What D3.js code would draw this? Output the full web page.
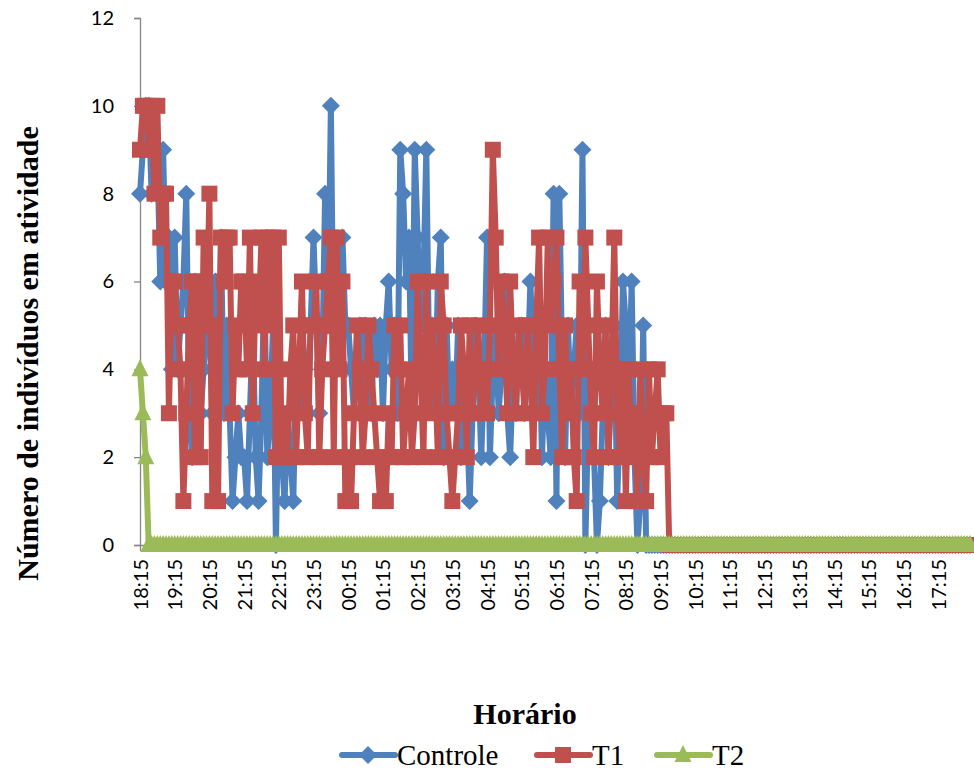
<!DOCTYPE html>
<html>
<head>
<meta charset="utf-8">
<script src="https://cdn.jsdelivr.net/npm/d3@7"></script>
<style>
  body { margin: 0; background: #fff; }
  svg { display: block; }
</style>
</head>
<body>
<svg id="chart" width="974" height="771"></svg>
<script>
// Hour labels shown on the category axis (one every 12 samples of 5 min)
const hourLabels = ["18:15","19:15","20:15","21:15","22:15","23:15","00:15","01:15",
  "02:15","03:15","04:15","05:15","06:15","07:15","08:15","09:15","10:15","11:15",
  "12:15","13:15","14:15","15:15","16:15","17:15"];

const yTicks = [0, 2, 4, 6, 8, 10, 12];

// Number of active individuals, sampled every 5 minutes from 18:15 (12 per row = 1 hour)
const controle = [
  8,9,10,10,8,9,9,6,9,6,7,4,
  7,4,5,6,8,3,2,6,5,3,4,5,
  5,3,6,4,7,3,5,3,1,2,3,2,
  2,1,3,5,2,1,3,6,2,3,5,0,
  4,2,1,3,2,1,4,3,5,4,3,5,
  7,5,3,4,8,5,10,4,6,5,7,5,
  5,4,3,4,5,3,5,4,3,5,4,5,
  3,5,6,4,5,3,9,8,6,7,3,9,
  7,5,6,9,4,5,3,6,7,2,5,3,
  4,3,5,2,4,3,1,3,5,4,2,4,
  7,2,4,5,3,4,6,3,2,4,3,5,
  5,3,4,6,4,3,5,2,4,3,2,8,
  1,8,4,2,5,3,4,5,3,9,0,3,
  4,2,0,1,3,5,2,4,5,1,3,6,
  5,3,6,2,0,1,5,0,0,0,0,0,
  0,0,0,0,0,0,0,0,0,0,0,0,
  0,0,0,0,0,0,0,0,0,0,0,0,
  0,0,0,0,0,0,0,0,0,0,0,0,
  0,0,0,0,0,0,0,0,0,0,0,0,
  0,0,0,0,0,0,0,0,0,0,0,0,
  0,0,0,0,0,0,0,0,0,0,0,0,
  0,0,0,0,0,0,0,0,0,0,0,0,
  0,0,0,0,0,0,0,0,0,0,0,0,
  0,0,0,0,0,0,0,0,0,0,0,0
];

const t1 = [
  9,10,10,9,10,8,10,7,8,8,3,6,
  6,5,4,1,3,5,6,2,6,2,7,5,
  8,1,5,1,7,6,7,7,3,5,4,6,
  6,4,7,3,6,5,7,4,7,5,7,2,
  7,2,3,2,4,5,2,4,6,3,2,5,
  5,6,2,4,5,6,7,2,7,4,6,1,
  2,1,3,5,4,2,3,5,4,3,2,1,
  2,1,3,2,5,4,5,2,3,4,2,3,
  6,4,2,6,3,5,4,2,6,5,3,2,
  1,2,3,5,4,2,5,3,4,5,3,4,
  3,5,9,7,4,6,5,3,6,4,3,5,
  4,3,5,4,2,5,7,3,4,7,5,6,
  7,4,2,5,3,4,2,1,6,4,7,5,
  3,2,6,4,3,5,2,4,7,3,2,4,
  1,4,2,3,1,4,2,1,4,2,3,4,
  2,3,3,0,0,0,0,0,0,0,0,0,
  0,0,0,0,0,0,0,0,0,0,0,0,
  0,0,0,0,0,0,0,0,0,0,0,0,
  0,0,0,0,0,0,0,0,0,0,0,0,
  0,0,0,0,0,0,0,0,0,0,0,0,
  0,0,0,0,0,0,0,0,0,0,0,0,
  0,0,0,0,0,0,0,0,0,0,0,0,
  0,0,0,0,0,0,0,0,0,0,0,0,
  0,0,0,0,0,0,0,0,0,0,0,0
];

const t2 = [
  4,3,2,0,0,0,0,0,0,0,0,0,
  0,0,0,0,0,0,0,0,0,0,0,0,
  0,0,0,0,0,0,0,0,0,0,0,0,
  0,0,0,0,0,0,0,0,0,0,0,0,
  0,0,0,0,0,0,0,0,0,0,0,0,
  0,0,0,0,0,0,0,0,0,0,0,0,
  0,0,0,0,0,0,0,0,0,0,0,0,
  0,0,0,0,0,0,0,0,0,0,0,0,
  0,0,0,0,0,0,0,0,0,0,0,0,
  0,0,0,0,0,0,0,0,0,0,0,0,
  0,0,0,0,0,0,0,0,0,0,0,0,
  0,0,0,0,0,0,0,0,0,0,0,0,
  0,0,0,0,0,0,0,0,0,0,0,0,
  0,0,0,0,0,0,0,0,0,0,0,0,
  0,0,0,0,0,0,0,0,0,0,0,0,
  0,0,0,0,0,0,0,0,0,0,0,0,
  0,0,0,0,0,0,0,0,0,0,0,0,
  0,0,0,0,0,0,0,0,0,0,0,0,
  0,0,0,0,0,0,0,0,0,0,0,0,
  0,0,0,0,0,0,0,0,0,0,0,0,
  0,0,0,0,0,0,0,0,0,0,0,0,
  0,0,0,0,0,0,0,0,0,0,0,0,
  0,0,0,0,0,0,0,0,0,0,0,0,
  0,0,0,0,0,0,0,0,0,0,0,0
];

const seriesNames = ["Controle", "T1", "T2"];
const seriesColors = ["#4F81BD", "#C0504D", "#9BBB59"];

// Marker shapes (centered at origin)
const markerPaths = {
  diamond: "M0,-9L9,0L0,9L-9,0Z",
  square: "M-8,-8H8V8H-8Z",
  triangle: "M0,-10L8.5,7L-8.5,7Z"
};
const seriesMarkers = ["diamond", "square", "triangle"];

const svg = d3.select("#chart");
const plotLeft = 140, plotRight = 970, plotTop = 18, plotBottom = 545;

const x = d3.scaleLinear().domain([0, controle.length - 1]).range([plotLeft, plotRight]);
const y = d3.scaleLinear().domain([0, 12]).range([plotBottom, plotTop]);

const tickFont = "Lato, 'Open Sans', sans-serif";
const serif = "'Liberation Serif', 'Times New Roman', serif";

// Y axis
const yAxis = svg.append("g")
  .attr("transform", `translate(${plotLeft},0)`)
  .call(d3.axisLeft(y).tickValues(yTicks).tickSize(6).tickPadding(20));
yAxis.select(".domain").attr("stroke", "#868686").attr("stroke-width", 1.3);
yAxis.selectAll(".tick line").attr("stroke", "#868686").attr("stroke-width", 1.3);
yAxis.selectAll(".tick text")
  .attr("font-family", tickFont).attr("font-size", 20).attr("fill", "#000");

// X axis (category positions every hour)
const xTickIdx = hourLabels.map((_, i) => i * 12);
const xAxis = svg.append("g")
  .attr("transform", `translate(0,${plotBottom})`)
  .call(d3.axisBottom(x).tickValues(xTickIdx)
    .tickFormat(i => hourLabels[i / 12]).tickSize(6).tickSizeOuter(0).tickPadding(0));
xAxis.select(".domain").attr("stroke", "#868686").attr("stroke-width", 1.3);
xAxis.selectAll(".tick line").attr("stroke", "#868686").attr("stroke-width", 1.3);
xAxis.selectAll(".tick text")
  .attr("font-family", tickFont).attr("font-size", 20).attr("fill", "#000")
  .attr("text-anchor", "end")
  .attr("transform", "rotate(-90)")
  .attr("x", -14).attr("y", 0).attr("dy", "0.35em");

// Series
const allSeries = [controle, t1, t2];
const line = d3.line().x((d, i) => x(i)).y(d => y(d));

allSeries.forEach((data, s) => {
  const g = svg.append("g");
  g.append("path")
    .datum(data)
    .attr("d", line)
    .attr("fill", "none")
    .attr("stroke", seriesColors[s])
    .attr("stroke-width", 6)
    .attr("stroke-linejoin", "round")
    .attr("stroke-linecap", "round");
  g.selectAll("path.m")
    .data(data)
    .join("path")
    .attr("class", "m")
    .attr("d", markerPaths[seriesMarkers[s]])
    .attr("transform", (d, i) => `translate(${x(i)},${y(d)})`)
    .attr("fill", seriesColors[s]);
});

// Axis titles
svg.append("text")
  .attr("transform", `translate(38,${(plotTop + plotBottom) / 2 + 72}) rotate(-90)`)
  .attr("text-anchor", "middle")
  .attr("font-family", serif).attr("font-weight", "bold").attr("font-size", 30)
  .text("Número de indivíduos em atividade");

svg.append("text")
  .attr("x", 525).attr("y", 724)
  .attr("text-anchor", "middle")
  .attr("font-family", serif).attr("font-weight", "bold").attr("font-size", 30)
  .text("Horário");

// Legend
const legendX = [342, 537, 657];
const legendY = 755;
seriesNames.forEach((name, s) => {
  const g = svg.append("g").attr("transform", `translate(${legendX[s]},${legendY})`);
  g.append("line").attr("x1", 0).attr("x2", 53).attr("y1", 0).attr("y2", 0)
    .attr("stroke", seriesColors[s]).attr("stroke-width", 6).attr("stroke-linecap", "round");
  g.append("path").attr("d", markerPaths[seriesMarkers[s]])
    .attr("transform", "translate(26,0)").attr("fill", seriesColors[s]);
  g.append("text").attr("x", 55).attr("y", 0).attr("dy", "0.35em")
    .attr("font-family", serif).attr("font-size", 29).attr("fill", "#000")
    .text(name);
});
</script>
</body>
</html>
